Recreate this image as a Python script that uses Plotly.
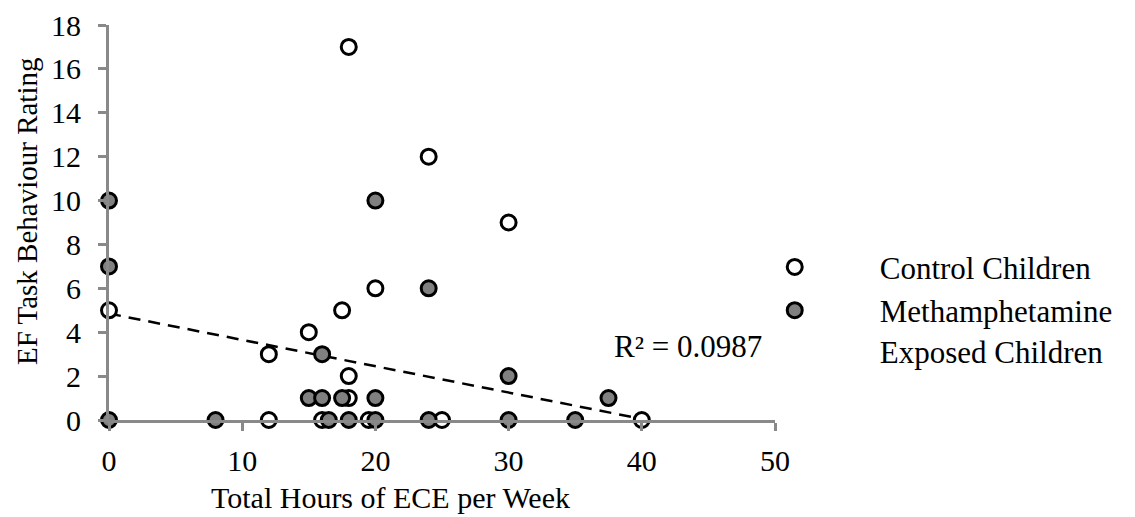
import plotly.graph_objects as go

# EF task behaviour rating vs total hours of ECE per week
control_hours = [18, 24, 30, 20, 17.5, 0, 15, 12, 18, 18, 12, 16, 19.5, 25, 40]
control_rating = [17, 12, 9, 6, 5, 5, 4, 3, 2, 1, 0, 0, 0, 0, 0]

meth_hours = [0, 0, 0, 8, 20, 24, 16, 15, 16, 17.5, 20, 30, 37.5, 16.5, 18, 20, 24, 30, 35]
meth_rating = [10, 7, 0, 0, 10, 6, 3, 1, 1, 1, 1, 2, 1, 0, 0, 0, 0, 0, 0]

trend_hours = [0, 40]
trend_rating = [4.85, 0.05]
r_squared = 0.0987

FONT = 'Liberation Serif, Times New Roman, serif'
AXIS_GREY = '#898989'

fig = go.Figure()
fig.add_trace(go.Scatter(
    x=trend_hours, y=trend_rating,
    mode='lines',
    line={'color': 'black', 'width': 2.5, 'dash': '12px,8px'},
    showlegend=False, hoverinfo='skip', cliponaxis=False,
))
fig.add_trace(go.Scatter(
    x=control_hours, y=control_rating,
    mode='markers', name='Control Children',
    marker={'size': 15, 'color': 'white', 'line': {'color': 'black', 'width': 3}},
    cliponaxis=False,
))
fig.add_trace(go.Scatter(
    x=meth_hours, y=meth_rating,
    mode='markers', name='Methamphetamine<br>Exposed Children',
    marker={'size': 15, 'color': '#808080', 'line': {'color': 'black', 'width': 3}},
    cliponaxis=False,
))

fig.add_annotation(
    x=43.5, y=3.35, text=f'R² = {r_squared}', showarrow=False,
    font={'family': FONT, 'size': 31, 'color': 'black'},
)
# axis titles placed like the original (x title sits left of centre)
fig.add_annotation(
    x=0.422, y=-0.195, xref='paper', yref='paper', showarrow=False,
    xanchor='center', yanchor='middle',
    text='Total Hours of ECE per Week', font={'size': 30},
)
fig.add_annotation(
    x=-0.124, y=0.53, xref='paper', yref='paper', showarrow=False, textangle=-90,
    xanchor='center', yanchor='middle',
    text='EF Task Behaviour Rating', font={'size': 29},
)

# page body adds an 8px offset, so the figure is 8px smaller
fig.update_layout(
    width=1127, height=509,
    margin={'l': 101, 'r': 360, 't': 17, 'b': 97, 'autoexpand': False},
    plot_bgcolor='white', paper_bgcolor='white',
    font={'family': FONT, 'size': 30, 'color': 'black'},
    legend={
        'x': 0.902, 'xanchor': 'left', 'y': 0.455, 'yanchor': 'top',
        'font': {'family': FONT, 'size': 31, 'color': 'black'},
        'valign': 'top', 'tracegroupgap': 4, 'itemwidth': 160,
    },
)
fig.update_xaxes(
    range=[0, 50], tickvals=[0, 10, 20, 30, 40, 50],
    showgrid=False, zeroline=False, automargin=False,
    showline=True, linecolor=AXIS_GREY, linewidth=3,
    ticks='outside', ticklen=8, tickwidth=3, tickcolor=AXIS_GREY,
    tickfont={'size': 30}, ticklabelstandoff=4,
)
fig.update_yaxes(
    range=[0, 18], dtick=2,
    showgrid=False, zeroline=False, automargin=False,
    showline=True, linecolor=AXIS_GREY, linewidth=3,
    ticks='outside', ticklen=8, tickwidth=3, tickcolor=AXIS_GREY,
    tickfont={'size': 30}, ticklabelstandoff=11,
)

fig.write_html('out.html')
